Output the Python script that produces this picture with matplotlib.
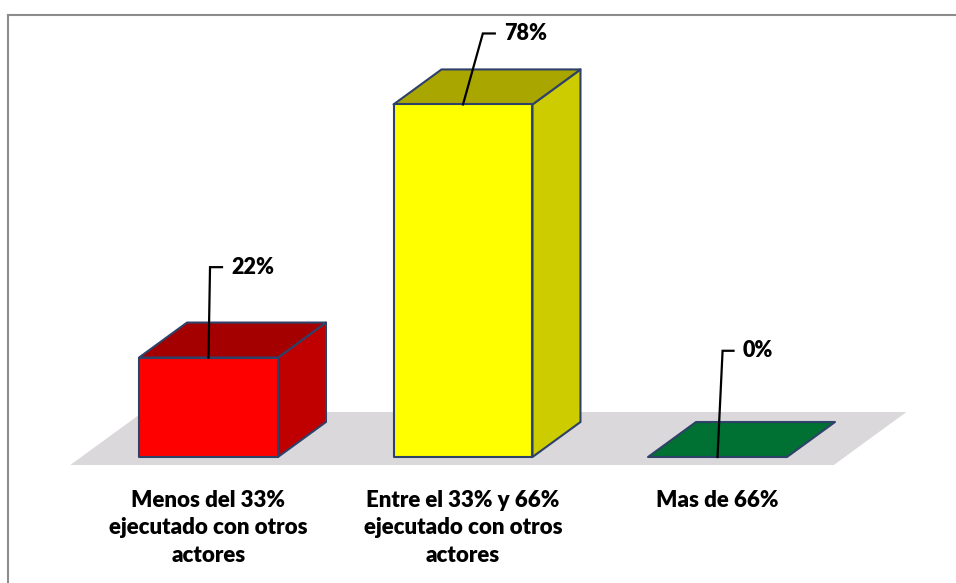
import matplotlib.pyplot as plt
from matplotlib.patches import Polygon
from matplotlib.lines import Line2D

categorias = ["Menos del 33%\nejecutado con otros\nactores",
              "Entre el 33% y 66%\nejecutado con otros\nactores",
              "Mas de 66%"]
porcentajes = [22, 78, 0]
etiquetas = ["22%", "78%", "0%"]

frentes = ["#FF0000", "#FFFF00", "#00A050"]
techos = ["#A50000", "#AAA600", "#007033"]
lados = ["#C00000", "#CCCC00", "#005028"]

fuente = ['Lato', 'DejaVu Sans']
peso = 'heavy'
borde = "#2E4169"

# geometria del falso 3D (en unidades de categoria y de porcentaje)
ancho = 0.273
prof_x = 48 / 254.5
prof_y = 35 / 4.52

fig = plt.figure(figsize=(9.56, 5.83), dpi=100)
ax = fig.add_axes([0, 0, 1, 1])
ax.set_xlim(-208.5 / 254.5, (956 - 208.5) / 254.5)
ax.set_ylim((457 - 583) / 4.52, 457 / 4.52)
ax.axis('off')

# marco del grafico
fig.add_artist(Line2D([8 / 956, 8 / 956], [0, 1 - 15 / 583], transform=fig.transFigure,
                      color="#8C8C8C", lw=1.5))
fig.add_artist(Line2D([8 / 956, 1], [1 - 15 / 583, 1 - 15 / 583], transform=fig.transFigure,
                      color="#8C8C8C", lw=1.5))


def desplazar(x, y, d):
    return (x + d * prof_x, y + d * prof_y)


# piso gris
n = len(categorias)
d0, d1 = -8 / 35, 45 / 35
piso = [desplazar(-0.5, 0, d0), desplazar(n - 0.5, 0, d0),
        desplazar(n - 0.5, 0, d1), desplazar(-0.5, 0, d1)]
ax.add_patch(Polygon(piso, closed=True, facecolor="#DAD8DA", edgecolor="none", zorder=1))

for i, v in enumerate(porcentajes):
    x0, x1 = i - ancho, i + ancho
    techo = [(x0, v), (x1, v), desplazar(x1, v, 1), desplazar(x0, v, 1)]
    if v > 0:
        lado = [(x1, 0), desplazar(x1, 0, 1), desplazar(x1, v, 1), (x1, v)]
        frente = [(x0, 0), (x1, 0), (x1, v), (x0, v)]
        ax.add_patch(Polygon(lado, closed=True, facecolor=lados[i], edgecolor=borde,
                             lw=1.5, joinstyle='round', zorder=2))
        ax.add_patch(Polygon(techo, closed=True, facecolor=techos[i], edgecolor=borde,
                             lw=1.5, joinstyle='round', zorder=2))
        ax.add_patch(Polygon(frente, closed=True, facecolor=frentes[i], edgecolor=borde,
                             lw=1.5, joinstyle='round', zorder=3))
    else:
        ax.add_patch(Polygon(techo, closed=True, facecolor=techos[i], edgecolor=borde,
                             lw=1.5, joinstyle='round', zorder=2))

# etiquetas de datos con linea guia
guias = [(0.006, 20.0, 0.047), (0.078, 15.7, 0.047), (0.02, 23.5, 0.043)]
for i, v in enumerate(porcentajes):
    gx, gy, gh = guias[i]
    xt, yt = i + gx, v + gy
    ax.plot([i, xt, xt + gh], [v, yt, yt], color="black", lw=1.6, zorder=4,
            solid_joinstyle='miter')
    ax.text(xt + gh + 0.035, yt, etiquetas[i], ha='left', va='center',
            fontsize=15.5, fontweight=peso, family=fuente, zorder=4)

# categorias bajo el piso
for i, c in enumerate(categorias):
    ax.text(i, -7.3, c, ha='center', va='top', fontsize=16, fontweight=peso,
            family=fuente, linespacing=1.38)

fig.savefig("out.png", dpi=100)
